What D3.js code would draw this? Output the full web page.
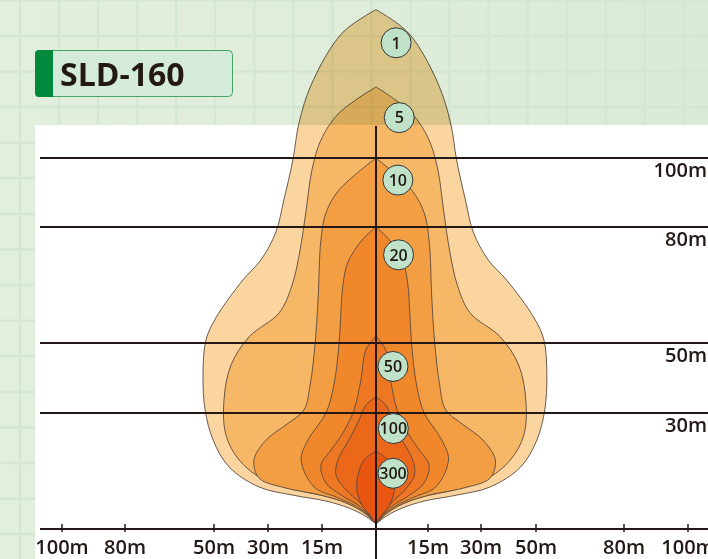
<!DOCTYPE html>
<html><head><meta charset="utf-8">
<script src="https://cdn.jsdelivr.net/npm/d3@7"></script>
<style>html,body{margin:0;padding:0;background:#fff;}svg{display:block;}</style>
</head><body>
<svg id="chart" width="708" height="559"></svg>
<script>
// ---------- DATA (lateral metres, distance metres; right half, mirrored) ----------
const luxLevels = ["1", "5", "10", "20", "50", "100", "300"];
const contour1 = [[0,143],[9.4,136.2],[17.8,121.7],[21.4,110.1],[23.1,99.4],[25.6,87.8],[27.8,78.7],[32.6,71.5],[39.3,66.3],[49.3,56.5],[52.7,50.8],[53.7,40.9],[53.0,30.9],[50.3,22.7],[44.4,15.4],[33.3,10],[23.1,7.8],[13.9,6.2],[7.5,4.3],[3.1,2.2],[0,0]];
const contour5 = [[0,120.6],[10.3,113.0],[15.3,105.2],[17.8,96.5],[19.4,84.9],[21.1,74.0],[23.3,65.0],[26.9,57.8],[37.0,51.6],[43.7,43.7],[46.3,33.7],[45.6,24.1],[40.7,17.3],[31.5,11.9],[22.2,9.2],[13.3,7.3],[6.9,5.1],[2.8,2.7],[0,0]];
const contour10 = [[0,100],[10.3,90.7],[13.9,84.1],[15.3,76.6],[16.1,61.1],[16.9,50],[18.3,38],[20,30.9],[25,26.8],[30.7,22.7],[35.2,17.3],[33.3,12.4],[25,9.7],[15.3,7.8],[8.3,5.7],[3.3,3.0],[0,0]];
const contour20 = [[0,80],[3.9,76.6],[7.8,70.9],[9.2,65.0],[9.7,58.5],[10.3,49.4],[11.7,38],[13.9,30],[18.9,22.7],[20.8,17.3],[17.2,10],[11.1,7.3],[6.1,5.1],[2.5,2.7],[0,0]];
const contour50 = [[0,51.8],[2.8,48],[4.2,39.4],[6.1,30.9],[9.2,24.6],[12.5,20],[15.3,15.9],[13.9,11.1],[9.7,7.8],[5,5.1],[2.2,2.7],[0,0]];
const contour100 = [[0,34.6],[2.8,32.3],[4.7,28.1],[7.5,22.7],[10.6,17.3],[11.1,13.2],[8.3,9.2],[4.4,5.7],[1.9,2.7],[0,0]];
const contour300 = [[0,19.7],[3.3,17.3],[5.0,13.2],[5.3,9.2],[3.9,5.1],[1.7,2.4],[0,0]];
const contours = [contour1, contour5, contour10, contour20, contour50, contour100, contour300];
const labelPoints = [[5.8,133.4],[6.7,111.7],[6.3,93.6],[6.5,72.8],[4.9,43.3],[5.0,25.8],[4.9,13.7]];
const distanceTicks = [30, 50, 80, 100];
const lateralTicks = [-100, -80, -50, -30, -15, 15, 30, 50, 80, 100];
const title = "SLD-160";

// ---------- STYLE ----------
const fills = ["#fbd5a0", "#f6b767", "#f39e42", "#f0882b", "#ed7723", "#eb671a", "#e85612"];
const ink = "#231815";

const svg = d3.select("#chart");
const W = 708, H = 559;

// background
const defs = svg.append("defs");
const grad = defs.append("linearGradient").attr("id", "bg").attr("x1", 0).attr("x2", 1).attr("y1", 0).attr("y2", 0);
grad.append("stop").attr("offset", 0).attr("stop-color", "#e3efdd");
grad.append("stop").attr("offset", 1).attr("stop-color", "#dbead8");
svg.append("rect").attr("width", W).attr("height", H).attr("fill", "url(#bg)");
const grid = svg.append("g").attr("stroke", "#d3e7d2").attr("stroke-width", 2.5);
d3.range(20, W, 39.05).forEach(x => grid.append("line").attr("x1", x).attr("x2", x).attr("y1", 0).attr("y2", H));
d3.range(0.3, H, 35.6).forEach(y => grid.append("line").attr("y1", y).attr("y2", y).attr("x1", 0).attr("x2", W));
svg.append("rect").attr("x", 35).attr("y", 125).attr("width", W - 35).attr("height", H - 125).attr("fill", "#ffffff");

// scales
const x = d3.scaleLinear()
  .domain([-100, -80, -50, -30, -15, 0, 15, 30, 50, 80, 100])
  .range([62, 125, 214, 268, 322, 376, 428, 481, 536, 624, 688]);
const y = d3.scaleLinear()
  .domain([0, 30, 50, 80, 100])
  .range([524, 413, 343, 227, 158]);

const line = d3.line().curve(d3.curveCatmullRom.alpha(0.5));
function shapePath(pts) {
  const right = pts.map(([a, b]) => [x(a), y(b)]);
  const left = pts.slice().reverse().map(([a, b]) => [x(-a), y(b)]);
  return line(right) + line(left).replace(/^M/, "L") + "Z";
}

const shapes = svg.append("g").style("mix-blend-mode", "multiply").style("isolation", "isolate");
shapes.selectAll("path").data(contours).join("path")
  .attr("d", d => shapePath(d))
  .attr("fill", (d, i) => fills[i])
  .attr("stroke", "#5a4a3e")
  .attr("stroke-width", 0.9)
  .attr("stroke-linejoin", "round");

// distance lines
svg.append("g").selectAll("line").data(distanceTicks).join("line")
  .attr("x1", 40).attr("x2", W)
  .attr("y1", d => y(d)).attr("y2", d => y(d))
  .attr("stroke", ink).attr("stroke-width", 2);
svg.append("g").selectAll("text").data(distanceTicks).join("text")
  .attr("x", 707).attr("y", d => y(d) + 18.5)
  .attr("text-anchor", "end")
  .attr("font-family", "'Open Sans', sans-serif").attr("font-weight", 600).attr("font-size", 20)
  .attr("fill", ink)
  .text(d => d + "m");

// centre line
svg.append("line").attr("x1", x(0)).attr("x2", x(0)).attr("y1", 126).attr("y2", H)
  .attr("stroke", ink).attr("stroke-width", 2);

// bottom axis
const axisY = 529;
svg.append("line").attr("x1", 40).attr("x2", W).attr("y1", axisY).attr("y2", axisY)
  .attr("stroke", ink).attr("stroke-width", 2);
svg.append("g").selectAll("line").data(lateralTicks).join("line")
  .attr("x1", d => x(d)).attr("x2", d => x(d)).attr("y1", axisY - 5).attr("y2", axisY + 3)
  .attr("stroke", ink).attr("stroke-width", 1.5);
svg.append("g").selectAll("text").data(lateralTicks).join("text")
  .attr("x", d => x(d)).attr("y", 554)
  .attr("text-anchor", "middle")
  .attr("font-family", "'Open Sans', sans-serif").attr("font-weight", 600).attr("font-size", 20)
  .attr("fill", ink)
  .text(d => Math.abs(d) + "m");

// lux labels
const lab = svg.append("g").selectAll("g").data(luxLevels).join("g")
  .attr("transform", (d, i) => `translate(${x(labelPoints[i][0])},${y(labelPoints[i][1])})`);
lab.append("circle").attr("r", 15).attr("fill", "#bfe2c8").attr("stroke", "#333").attr("stroke-width", 1);
lab.append("text").attr("text-anchor", "middle").attr("dy", "0.36em")
  .attr("font-family", "'Open Sans', sans-serif").attr("font-weight", 600).attr("font-size", 16)
  .attr("fill", ink).text(d => d);

// title box
const tb = svg.append("g");
tb.append("rect").attr("x", 35.5).attr("y", 50.5).attr("width", 197).attr("height", 46).attr("rx", 4)
  .attr("fill", "#d4eadb").attr("stroke", "#45a466").attr("stroke-width", 1);
tb.append("rect").attr("x", 35).attr("y", 50).attr("width", 18).attr("height", 47).attr("rx", 4).attr("fill", "#00893b");
tb.append("rect").attr("x", 45).attr("y", 50).attr("width", 8).attr("height", 47).attr("fill", "#00893b");
tb.append("text").attr("x", 60).attr("y", 86)
  .attr("font-family", "'Open Sans', sans-serif").attr("font-weight", 700).attr("font-size", 32)
  .attr("fill", ink).text(title);
</script>
</body></html>
